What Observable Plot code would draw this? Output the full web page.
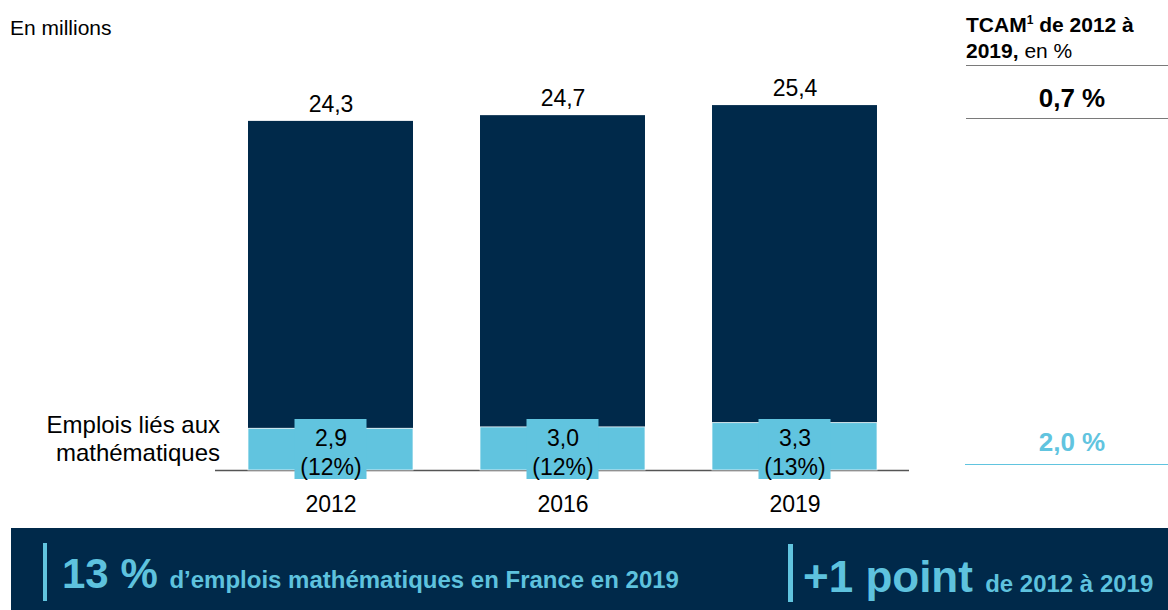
<!DOCTYPE html>
<html>
<head>
<meta charset="utf-8">
<script src="https://cdn.jsdelivr.net/npm/d3@7"></script>
<script src="https://cdn.jsdelivr.net/npm/@observablehq/plot@0.6"></script>
<style>
  body { margin: 0; background: #fff; font-family: "Liberation Sans", Arial, sans-serif; color: #000; }
  #wrap { position: relative; width: 1168px; height: 610px; overflow: hidden; }
  #chart { position: absolute; left: 0; top: 0; }
  .abs { position: absolute; white-space: nowrap; }
  .rule { position: absolute; height: 0; }
</style>
</head>
<body>
<div id="wrap">
  <div id="chart"></div>
  <div id="unit" class="abs" style="left:10px;top:16.5px;font-size:21px;line-height:21px;"></div>
  <div id="seriesLabel" class="abs" style="right:948px;top:410.5px;font-size:24px;line-height:28px;text-align:right;"></div>
  <div id="cagrHead" class="abs" style="left:966px;top:6.7px;font-size:21px;line-height:26px;"></div>
  <div class="rule" style="left:966px;top:65px;width:202px;border-top:1.5px solid #7a7a7a;"></div>
  <div id="cagrTotal" class="abs" style="left:971px;top:85px;width:202px;text-align:center;font-size:26px;line-height:26px;font-weight:bold;"></div>
  <div class="rule" style="left:966px;top:117.5px;width:202px;border-top:1.5px solid #7a7a7a;"></div>
  <div id="cagrMath" class="abs" style="left:971px;top:428.7px;width:202px;text-align:center;font-size:26px;line-height:26px;font-weight:bold;color:#61c4df;"></div>
  <div class="rule" style="left:965px;top:463.5px;width:203px;border-top:1.5px solid #61c4df;"></div>
  <div id="banner" class="abs" style="left:11px;top:528px;width:1157px;height:82px;background:#00294a;"></div>
  <div class="abs" style="left:43px;top:543px;width:4px;height:58px;background:#61c4df;"></div>
  <div class="abs" style="left:788px;top:544px;width:5px;height:58px;background:#61c4df;"></div>
  <div id="kpi1" class="abs" style="left:62px;top:553px;font-size:42px;line-height:42px;font-weight:bold;color:#5ec2de;"></div>
  <div id="kpi2" class="abs" style="left:803px;top:554.5px;font-size:44px;line-height:44px;font-weight:bold;color:#5ec2de;"></div>
</div>
<script>
// ---- data ----
const years = ["2012", "2016", "2019"];
const totalJobs = [24.3, 24.7, 25.4];          // millions, all jobs
const mathJobs = [2.9, 3.0, 3.3];              // millions, math-related jobs
const mathShare = [12, 12, 13];                // % of total
const cagrValues = ["0,7 %", "2,0 %"];         // TCAM total, TCAM math jobs
const unitText = "En millions";
const seriesText = ["Emplois liés aux", "mathématiques"];
const cagrHeadText = ["TCAM", "1", " de 2012 à", "2019,", " en %"];
const kpi1Text = ["13 %", "d’emplois mathématiques en France en 2019"];
const kpi2Text = ["+1 point", "de 2012 à 2019"];

// ---- styles ----
const navy = "#00294a";
const light = "#61c4df";
const fmt = v => v.toFixed(1).replace(".", ",");

const rows = years.map((year, i) => ({
  year, total: totalJobs[i], math: mathJobs[i], share: mathShare[i]
}));

const chart = Plot.plot({
  width: 1168,
  height: 610,
  marginLeft: 215,
  marginRight: 259,
  marginTop: 39,
  marginBottom: 140,
  style: { fontFamily: "Liberation Sans, Arial, sans-serif", fontSize: "23px", color: "#000", background: "transparent" },
  x: { domain: years, paddingInner: 0.289, paddingOuter: 0.14, tickSize: 0, tickPadding: 25, label: null },
  y: { domain: [0, 30], axis: null },
  marks: [
    Plot.ruleY([0], { stroke: "#555", strokeWidth: 1.5 }),
    Plot.barY(rows, { x: "year", y1: "math", y2: "total", fill: navy }),
    Plot.barY(rows, { x: "year", y1: 0, y2: "math", fill: light, stroke: "#fff", strokeWidth: 1, strokeOpacity: 0.7 }),
    Plot.text(rows, { x: "year", y: "total", text: d => fmt(d.total), dy: -17, fontSize: 23, fill: "#000" }),
    Plot.barY(rows, { x: "year", y1: 0, y2: 0, insetLeft: 46.5, insetRight: 46.5, insetTop: -51, insetBottom: -9, fill: light }),
    Plot.text(rows, { x: "year", frameAnchor: "bottom", lineAnchor: "middle", text: d => `${fmt(d.math)}\n(${d.share}%)`, lineHeight: 1.27, dy: -19, fontSize: 23, fill: "#000" })
  ]
});
document.getElementById("chart").appendChild(chart);

// ---- annotations ----
document.getElementById("unit").textContent = unitText;
document.getElementById("seriesLabel").innerHTML = seriesText.join("<br>");
document.getElementById("cagrHead").innerHTML =
  `<b>${cagrHeadText[0]}<sup style="font-size:12px;vertical-align:8px;">${cagrHeadText[1]}</sup>${cagrHeadText[2]}</b><br><b>${cagrHeadText[3]}</b>${cagrHeadText[4]}`;
document.getElementById("cagrTotal").textContent = cagrValues[0];
document.getElementById("cagrMath").textContent = cagrValues[1];
document.getElementById("kpi1").innerHTML = `${kpi1Text[0]} <span style="font-size:24px;">${kpi1Text[1]}</span>`;
document.getElementById("kpi2").innerHTML = `${kpi2Text[0]} <span style="font-size:24px;">${kpi2Text[1]}</span>`;
</script>
</body>
</html>
